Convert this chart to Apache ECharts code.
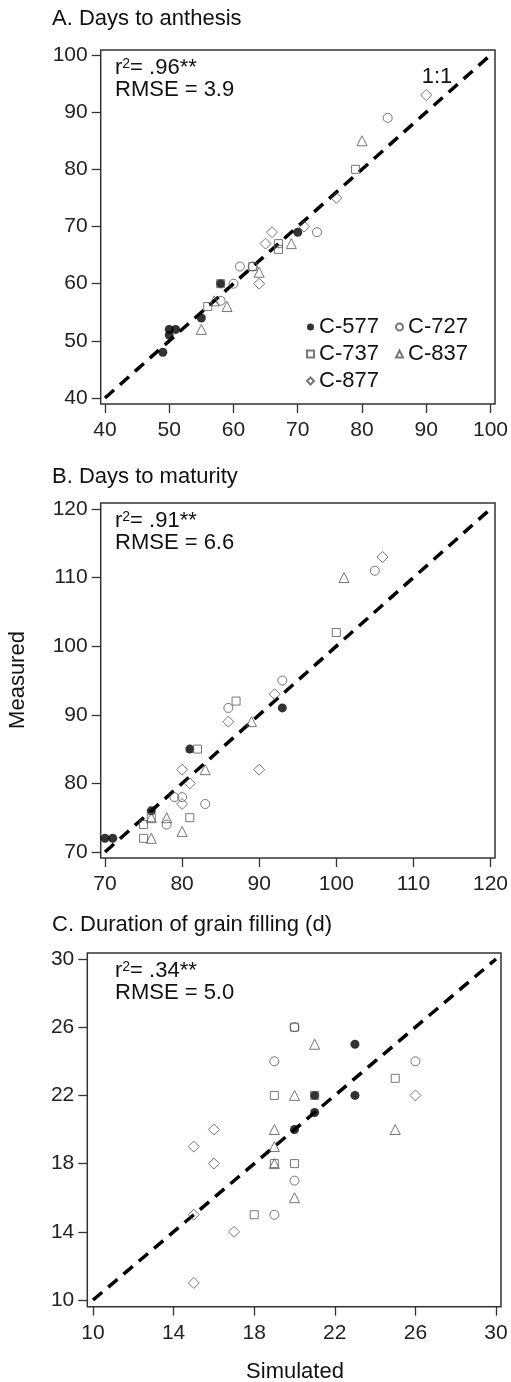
<!DOCTYPE html>
<html><head><meta charset="utf-8">
<script src="https://cdn.jsdelivr.net/npm/echarts@6/dist/echarts.min.js"></script>
<style>html,body{margin:0;padding:0;background:#fff}#c{width:511px;height:1382px}</style>
</head><body><div id="c"></div>
<script>
// ---------- DATA ----------
const cultivars = ['C-577', 'C-727', 'C-737', 'C-837', 'C-877'];
const panelTitles = ['A. Days to anthesis', 'B. Days to maturity', 'C. Duration of grain filling (d)'];
const r2Labels = ['.96**', '.91**', '.34**'];
const rmseLabels = ['3.9', '6.6', '5.0'];
// axis ranges: [min, max, interval]
const rangeA = [40, 100, 10];
const rangeB = [70, 120, 10];
const rangeC = [10, 30, 4];
// [simulated, measured]
const anthesis577 = [[49,48],[50,51],[50,52],[51,52],[55,54],[58,60],[70,69]];
const anthesis727 = [[58,57],[60,60],[61,63],[63,63],[73,69],[84,89]];
const anthesis737 = [[56,56],[58,60],[63,63],[67,66],[67,67],[79,80]];
const anthesis837 = [[55,52],[57,57],[59,56],[64,62],[69,67],[80,85]];
const anthesis877 = [[64,60],[65,67],[66,69],[71,70],[76,75],[90,93]];
const maturity577 = [[70,72],[71,72],[76,76],[81,85],[93,91]];
const maturity727 = [[79,78],[80,78],[78,74],[83,77],[86,91],[93,95],[105,111]];
const maturity737 = [[75,74],[75,72],[76,75],[81,75],[82,85],[87,92],[100,102]];
const maturity837 = [[76,75],[76,72],[78,75],[80,73],[83,82],[89,89],[101,110]];
const maturity877 = [[80,82],[81,80],[80,77],[86,89],[90,82],[92,93],[106,113]];
const filling577 = [[20,20],[21,21],[21,22],[23,22],[23,25]];
const filling727 = [[20,26],[19,24],[26,24],[20,17],[19,15]];
const filling737 = [[20,26],[19,22],[19,18],[20,18],[18,15],[25,23],[21,22]];
const filling837 = [[20,22],[19,20],[19,19],[19,18],[20,16],[21,25],[25,20]];
const filling877 = [[16,20],[15,19],[16,18],[15,15],[17,14],[15,11],[26,22]];

// ---------- LAYOUT ----------
const F = '"Liberation Sans", Arial, sans-serif';
const panels = [
  {range: rangeA, sets: [anthesis577, anthesis727, anthesis737, anthesis837, anthesis877],
   grid: {left: 105, top: 55, width: 386, height: 343}, box: [100.7, 50, 495, 404], titleY: 19},
  {range: rangeB, sets: [maturity577, maturity727, maturity737, maturity837, maturity877],
   grid: {left: 105, top: 509, width: 386, height: 343}, box: [100.7, 503, 495, 858], titleY: 477},
  {range: rangeC, sets: [filling577, filling727, filling737, filling837, filling877],
   grid: {left: 93, top: 959, width: 403, height: 341}, box: [87.3, 953, 501, 1306.7], titleY: 925}
];
const symbols = ['circle', 'circle', 'rect', 'triangle', 'diamond'];
const sizes = [9, 9, 8, 10, 11];

const grids = [], xAxes = [], yAxes = [], series = [], graphics = [];
panels.forEach((p, i) => {
  const g = p.grid;
  grids.push({left: g.left, top: g.top, width: g.width, height: g.height, containLabel: false});
  const common = {
    gridIndex: i, type: 'value', min: p.range[0], max: p.range[1], interval: p.range[2],
    axisLine: {show: false, onZero: false},
    axisTick: {show: true, length: 9, lineStyle: {color: '#333', width: 1.3}},
    splitLine: {show: false},
    axisLabel: {fontSize: 21, color: '#222', fontFamily: F, showMinLabel: true, showMaxLabel: true}
  };
  xAxes.push(Object.assign({}, common, {position: 'bottom', offset: p.box[3] - (g.top + g.height),
    axisLabel: Object.assign({}, common.axisLabel, {margin: 16})}));
  yAxes.push(Object.assign({}, common, {position: 'left', offset: g.left - p.box[0],
    axisLabel: Object.assign({}, common.axisLabel, {margin: 13})}));
  series.push({type: 'line', xAxisIndex: i, yAxisIndex: i, silent: true, z: 1,
    data: [[p.range[0], p.range[0]], [p.range[1], p.range[1]]], symbol: 'none',
    lineStyle: {color: '#000', width: 3.5, type: [12, 8]}});
  cultivars.forEach((c, k) => {
    series.push({type: 'scatter', name: c, xAxisIndex: i, yAxisIndex: i, z: 3,
      data: p.sets[k], symbol: symbols[k], symbolSize: sizes[k],
      itemStyle: k === 0 ? {color: '#000'} : {color: 'rgba(255,255,255,0)', borderColor: '#555', borderWidth: 1}});
  });
  const b = p.box;
  graphics.push({type: 'rect', z: 0, silent: true,
    shape: {x: b[0], y: b[1], width: b[2] - b[0], height: b[3] - b[1]},
    style: {fill: 'none', stroke: '#333', lineWidth: 1.5}});
  graphics.push({type: 'text', x: 52, y: p.titleY, silent: true,
    style: {text: panelTitles[i], font: '22px ' + F, fill: '#111', align: 'left', verticalAlign: 'middle', textAlign: 'left', textVerticalAlign: 'middle'}});
  graphics.push({type: 'text', x: 115, y: b[1] + 18, silent: true,
    style: {text: '{a|r}{s|2}{a|= ' + r2Labels[i] + '}', fill: '#111', align: 'left', verticalAlign: 'middle', textAlign: 'left', textVerticalAlign: 'middle',
      rich: {a: {fontSize: 22, fontFamily: F, lineHeight: 22, fill: '#111', color: '#111'},
             s: {fontSize: 14, fontFamily: F, lineHeight: 14, verticalAlign: 'top', fill: '#111', color: '#111'}}}});
  graphics.push({type: 'text', x: 115, y: b[1] + 40, silent: true,
    style: {text: 'RMSE = ' + rmseLabels[i], font: '22px ' + F, fill: '#111', align: 'left', verticalAlign: 'middle', textAlign: 'left', textVerticalAlign: 'middle'}});
});
graphics.push({type: 'text', x: 437, y: 77, silent: true,
  style: {text: '1:1', font: '22px ' + F, fill: '#111', align: 'center', verticalAlign: 'middle', textAlign: 'center', textVerticalAlign: 'middle'}});
graphics.push({type: 'text', x: 18, y: 680, rotation: Math.PI / 2, silent: true,
  style: {text: 'Measured', font: '22px ' + F, fill: '#111', align: 'center', verticalAlign: 'middle', textAlign: 'center', textVerticalAlign: 'middle'}});
graphics.push({type: 'text', x: 295, y: 1372, silent: true,
  style: {text: 'Simulated', font: '22px ' + F, fill: '#111', align: 'center', verticalAlign: 'middle', textAlign: 'center', textVerticalAlign: 'middle'}});

const legendCommon = {orient: 'vertical', padding: 0, itemGap: 5, itemWidth: 7, itemHeight: 7, itemTextGap: 5,
  textStyle: {fontSize: 22, color: '#111', fontFamily: F}, selectedMode: false};
const chart = echarts.init(document.getElementById('c'), null, {renderer: 'canvas'});
chart.setOption({
  animation: false,
  backgroundColor: '#fff',
  grid: grids, xAxis: xAxes, yAxis: yAxes, series: series,
  legend: [
    Object.assign({left: 306, top: 316, data: [cultivars[0], cultivars[2], cultivars[4]]}, legendCommon),
    Object.assign({left: 395, top: 316, data: [cultivars[1], cultivars[3]]}, legendCommon)
  ],
  graphic: graphics
});
</script></body></html>
